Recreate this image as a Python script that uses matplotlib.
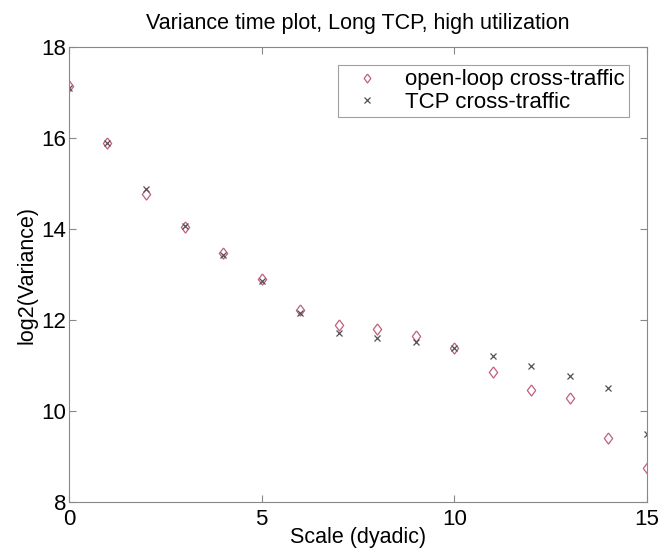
import numpy as np
import matplotlib
matplotlib.use('Agg')
from matplotlib import pyplot as plt

plt.rcParams['font.family'] = ['Liberation Sans', 'DejaVu Sans']

# dyadic scales and log2 variance for the two cross-traffic types
scale = np.arange(16)
open_loop = [17.15, 15.90, 14.77, 14.05, 13.47, 12.90, 12.22, 11.89,
             11.80, 11.65, 11.39, 10.86, 10.46, 10.28, 9.41, 8.75]
tcp = [17.10, 15.88, 14.88, 14.07, 13.43, 12.86, 12.15, 11.71,
       11.60, 11.52, 11.38, 11.21, 10.99, 10.77, 10.51, 9.49]

# slightly narrow diamond
diamond = [(0, 1), (0.75, 0), (0, -1), (-0.75, 0), (0, 1)]

fig = plt.figure(figsize=(6.6, 5.55), dpi=100)
ax = fig.add_axes([0.1045, 0.0955, 0.8755, 0.8198])

ax.plot(scale, open_loop, linestyle='none', marker=diamond, markersize=8,
        markerfacecolor='none', markeredgecolor='#c0607a', markeredgewidth=0.9,
        label='open-loop cross-traffic')
ax.plot(scale, tcp, linestyle='none', marker='x', markersize=5,
        color='#505058', markeredgewidth=0.9, label='TCP cross-traffic')

ax.set_xlim(0, 15)
ax.set_ylim(8, 18)
ax.set_xticks([0, 5, 10, 15])
ax.set_yticks([8, 10, 12, 14, 16, 18])
ax.tick_params(direction='in', top=True, right=True, labelsize=16,
               color='#888888', length=5)
ax.tick_params(axis='x', pad=5)
ax.tick_params(axis='y', pad=2)
for sp in ax.spines.values():
    sp.set_color('#888888')

ax.set_xlabel('Scale (dyadic)', fontsize=15.5, labelpad=-2)
ax.set_ylabel('log2(Variance)', fontsize=15.5, labelpad=3)
ax.set_title('Variance time plot, Long TCP, high utilization', fontsize=15.5, pad=13)

leg = ax.legend(loc='upper right', fontsize=16, frameon=True, fancybox=False,
                handletextpad=0.6, handlelength=2.2, borderpad=0.2,
                labelspacing=0.05, markerscale=0.8,
                bbox_to_anchor=(0.988, 0.985))
leg.get_frame().set_edgecolor('#888888')
leg.get_frame().set_linewidth(0.8)

fig.savefig('out.png', dpi=100)
